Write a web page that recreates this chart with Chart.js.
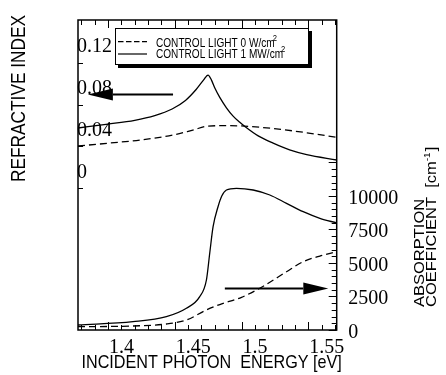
<!DOCTYPE html>
<html>
<head>
<meta charset="utf-8">
<script src="https://cdn.jsdelivr.net/npm/chart.js@4"></script>
<style>
  body { margin: 0; background: #fff; }
  #wrap { width: 446px; height: 375px; }
</style>
</head>
<body>
<div id="wrap"><canvas id="chart" width="446" height="375"></canvas></div>
<script>
// Brechungsindex-Änderung, Steuerlicht aus (0 W/cm2)
const nEnergyOff = [1.3775, 1.40, 1.4237, 1.4485, 1.4635, 1.4747, 1.487, 1.4987, 1.5235, 1.549, 1.5713];
const nValueOff  = [0.0403, 0.0430, 0.0460, 0.0508, 0.0556, 0.0594, 0.0598, 0.0596, 0.0571, 0.0530, 0.0486];

// Brechungsindex-Änderung, Steuerlicht an (1 MW/cm2)
const nEnergyOn = [1.3775, 1.40, 1.42, 1.435, 1.448, 1.458, 1.466, 1.4715, 1.4749, 1.4775, 1.480, 1.4837, 1.4887, 1.4937, 1.4987, 1.5025, 1.5125, 1.5237, 1.536, 1.5488, 1.5713];
const nValueOn  = [0.0576, 0.0613, 0.0650, 0.0695, 0.0758, 0.0840, 0.0945, 0.1035, 0.1084, 0.1035, 0.0960, 0.0870, 0.0770, 0.0690, 0.0630, 0.0590, 0.0500, 0.0430, 0.0365, 0.0320, 0.0269];

// Absorptionskoeffizient [1/cm], Steuerlicht aus
const aEnergyOff = [1.3775, 1.4185, 1.4437, 1.4587, 1.4737, 1.4837, 1.50, 1.516, 1.5337, 1.5462, 1.5587, 1.5713];
const aValueOff  = [246, 299, 448, 746, 1493, 1900, 2440, 3250, 4350, 5100, 5522, 5843];

// Absorptionskoeffizient [1/cm], Steuerlicht an
const aEnergyOn = [1.3775, 1.4187, 1.4437, 1.4587, 1.4687, 1.4737, 1.4762, 1.4787, 1.4824, 1.4852, 1.4887, 1.4962, 1.5087, 1.5212, 1.5337, 1.5462, 1.5587, 1.5713];
const aValueOn  = [373, 619, 993, 1619, 2485, 3731, 5746, 7709, 9201, 10000, 10448, 10575, 10448, 10075, 9455, 8828, 8336, 7985];

// Achsenbeschriftung
const xTickValues = [1.4, 1.45, 1.5, 1.55];
const xTickLabels = ['1.4', '1.45', '1.5', '1.55'];
const nTickValues = [0, 0.04, 0.08, 0.12];
const nTickLabels = ['0', '0.04', '0.08', '0.12'];
const aTickValues = [0, 2500, 5000, 7500, 10000];
const aTickLabels = ['0', '2500', '5000', '7500', '10000'];

const legendLabels = ['CONTROL LIGHT 0 W/cm', 'CONTROL LIGHT 1 MW/cm'];

const SERIF = '"Liberation Serif", "Times New Roman", serif';
const SANS = '"Liberation Sans", Arial, sans-serif';

function toPoints(xs, ys) {
  return xs.map((x, i) => ({ x: x, y: ys[i] }));
}

function line(ctx, x1, y1, x2, y2) {
  ctx.beginPath();
  ctx.moveTo(x1, y1);
  ctx.lineTo(x2, y2);
  ctx.stroke();
}

// Text mit Stauchung (sx entlang der Schrift, sy quer), optional gedreht
function text(ctx, s, x, y, size, family, sx, rot, sy) {
  ctx.save();
  ctx.translate(x, y);
  if (rot) ctx.rotate(rot);
  ctx.scale(sx, sy || 1);
  ctx.font = size + 'px ' + family;
  ctx.textAlign = 'left';
  ctx.textBaseline = 'alphabetic';
  ctx.fillText(s, 0, 0);
  const w = ctx.measureText(s).width * sx;
  ctx.restore();
  return w;
}

function arrow(ctx, x1, y1, x2, y2) {
  // Pfeil von (x1,y1) nach (x2,y2), Spitze bei (x2,y2)
  const dir = Math.sign(x2 - x1);
  const headLen = 25, half = 6;
  ctx.lineWidth = 2;
  line(ctx, x1, y1, x2 - dir * headLen, y2);
  ctx.beginPath();
  ctx.moveTo(x2, y2);
  ctx.lineTo(x2 - dir * headLen, y2 - half);
  ctx.lineTo(x2 - dir * headLen, y2 + half);
  ctx.closePath();
  ctx.fill();
}

const figureDecor = {
  id: 'figureDecor',
  afterDatasetsDraw(chart) {
    const ctx = chart.ctx;
    const area = chart.chartArea;
    const sx = chart.scales.x, sL = chart.scales.yL, sR = chart.scales.yR;
    ctx.save();
    ctx.strokeStyle = '#000';
    ctx.fillStyle = '#000';

    // Rahmen
    ctx.lineWidth = 1.5;
    ctx.strokeRect(area.left, area.top, area.right - area.left, area.bottom - area.top);

    // Ticks nach innen, oben und unten
    ctx.lineWidth = 1;
    for (let i = 138; i <= 157; i++) {
      const px = Math.round(sx.getPixelForValue(i / 100)) + 0.5;
      const len = i % 5 === 0 ? 8 : 5;
      line(ctx, px, area.bottom, px, area.bottom - len);
      line(ctx, px, area.top, px, area.top + len);
    }
    // linke Achse
    nTickValues.forEach(v => {
      const py = Math.round(sL.getPixelForValue(v)) + 0.5;
      line(ctx, area.left, py, area.left + 5, py);
    });
    // rechte Achse
    for (let v = 0; v <= 12500; v += 500) {
      const py = Math.round(sR.getPixelForValue(v)) + 0.5;
      const len = v % 2500 === 0 ? 8 : 5;
      line(ctx, area.right, py, area.right - len, py);
    }

    // Tick-Beschriftung
    xTickValues.forEach((v, i) => {
      text(ctx, xTickLabels[i], sx.getPixelForValue(v) + 1, area.bottom + 22.5, 20, SERIF, 1);
    });
    nTickValues.forEach((v, i) => {
      text(ctx, nTickLabels[i], area.left - 1, sL.getPixelForValue(v) - 10.5, 20, SERIF, 1);
    });
    aTickValues.forEach((v, i) => {
      text(ctx, aTickLabels[i], area.right + 11.5, sR.getPixelForValue(v) + 8, 20, SERIF, 1);
    });

    // Achsentitel
    const up = -Math.PI / 2;
    text(ctx, 'INCIDENT PHOTON  ENERGY [eV]', 81.5, 368.3, 18.6, SANS, 0.87);
    text(ctx, 'REFRACTIVE INDEX', 25, 182, 19.5, SANS, 0.886, up);
    text(ctx, 'ABSORPTION', 423.5, 307, 16.5, SANS, 1, up, 0.88);
    let w = text(ctx, 'COEFFICIENT  [cm', 436, 307, 16.5, SANS, 1, up, 0.88);
    w += text(ctx, '-1', 430, 307 - w, 10, SANS, 1, up, 0.88);
    text(ctx, ']', 436, 307 - w - 1, 16.5, SANS, 1, up, 0.88);

    // Legende mit Schatten
    const lx = 115, ly = 28, lw = 193, lh = 36;
    ctx.fillRect(lx + 3, ly + 3, lw + 1, lh + 1);
    ctx.fillStyle = '#fff';
    ctx.fillRect(lx, ly, lw, lh);
    ctx.fillStyle = '#000';
    ctx.lineWidth = 1;
    ctx.strokeRect(lx + 0.5, ly + 0.5, lw, lh);
    ctx.lineWidth = 1.2;
    ctx.setLineDash([5.5, 2.5]);
    line(ctx, 118, 41.7, 147, 41.7);
    ctx.setLineDash([]);
    line(ctx, 118, 54, 147, 54);
    const baselines = [46.8, 57.8];
    legendLabels.forEach((s, i) => {
      const tw = text(ctx, s, 156, baselines[i], 12.6, SANS, 0.8);
      text(ctx, '2', 156 + tw - 2, baselines[i] - 5.5, 9, SANS, 0.85);
    });

    // Pfeile: welche Kurvengruppe zu welcher Achse gehört
    const nArrowY = sL.getPixelForValue(0.0897);
    arrow(ctx, sx.getPixelForValue(1.4487), nArrowY, sx.getPixelForValue(1.3849), nArrowY);
    const aArrowY = sR.getPixelForValue(3100);
    arrow(ctx, sx.getPixelForValue(1.4875), aArrowY, sx.getPixelForValue(1.565), aArrowY);

    ctx.restore();
  }
};

const lineStyle = {
  borderColor: '#000',
  borderWidth: 1.3,
  pointRadius: 0,
  fill: false,
  cubicInterpolationMode: 'monotone'
};

new Chart(document.getElementById('chart').getContext('2d'), {
  type: 'line',
  data: {
    datasets: [
      Object.assign({ label: 'n 0 W', data: toPoints(nEnergyOff, nValueOff), yAxisID: 'yL', borderDash: [7, 4] }, lineStyle),
      Object.assign({ label: 'n 1 MW', data: toPoints(nEnergyOn, nValueOn), yAxisID: 'yL' }, lineStyle),
      Object.assign({ label: 'alpha 0 W', data: toPoints(aEnergyOff, aValueOff), yAxisID: 'yR', borderDash: [7, 4] }, lineStyle),
      Object.assign({ label: 'alpha 1 MW', data: toPoints(aEnergyOn, aValueOn), yAxisID: 'yR' }, lineStyle)
    ]
  },
  options: {
    responsive: false,
    animation: false,
    devicePixelRatio: 1,
    layout: { padding: { left: 78, right: 109.3, top: 20, bottom: 45 } },
    plugins: { legend: { display: false }, tooltip: { enabled: false } },
    scales: {
      x: { type: 'linear', min: 1.3775, max: 1.5713, display: false },
      yL: { type: 'linear', min: -0.1362, max: 0.1612, display: false },
      yR: { type: 'linear', min: 0, max: 23134, display: false }
    }
  },
  plugins: [figureDecor]
});
</script>
</body>
</html>
